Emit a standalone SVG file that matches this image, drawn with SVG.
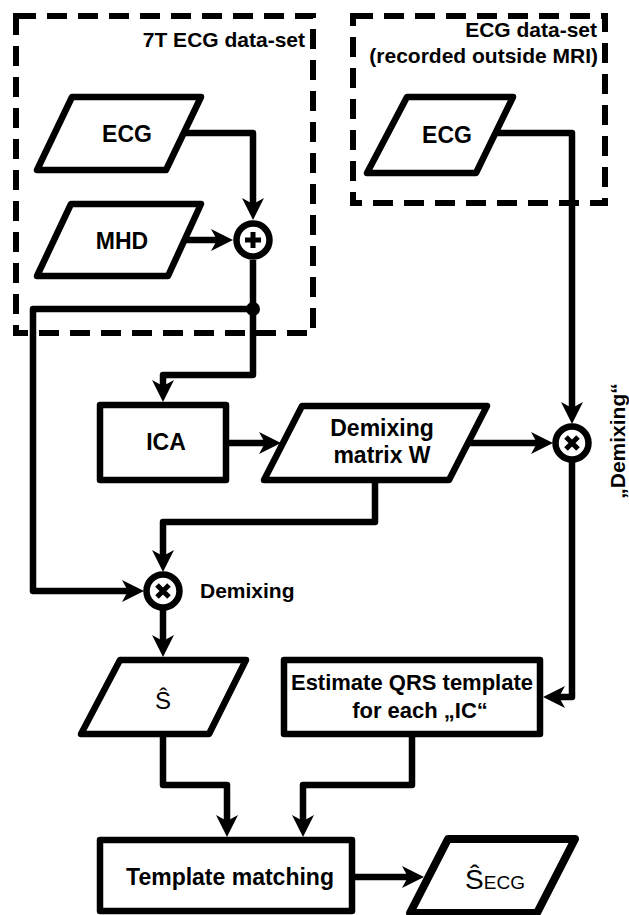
<svg xmlns="http://www.w3.org/2000/svg" width="629" height="915" viewBox="0 0 629 915">
<style>
.shape{fill:#fff;stroke:#000;stroke-width:6.5;stroke-linejoin:round}
.dash{fill:none;stroke:#000;stroke-width:6;stroke-dasharray:20 11}
.conn{fill:none;stroke:#000;stroke-width:6.5;stroke-linejoin:round}
.lbl{font-family:"Liberation Sans",Arial,sans-serif;font-weight:bold;font-size:23px;fill:#000;text-anchor:middle}
.grp{font-family:"Liberation Sans",Arial,sans-serif;font-weight:bold;font-size:21px;fill:#000;text-anchor:end}
.sym{fill:none;stroke:#000;stroke-width:5;stroke-linecap:butt}
</style>
<defs>
<marker id="arr" markerUnits="userSpaceOnUse" viewBox="-14 -12 26 24" markerWidth="26" markerHeight="24" refX="0" refY="0" orient="auto">
<path d="M10,0 L-12,-11 L-6,0 L-12,11 Z" fill="#000"/>
</marker>
</defs>

<g id="dataset-7T">
<rect class="dash" x="16" y="16" width="297" height="317"/>
<text class="grp" x="305" y="47">7T ECG data-set</text>
</g>
<g id="dataset-outside">
<rect class="dash" x="353" y="16" width="252" height="187"/>
<text class="grp" x="597" y="37">ECG data-set</text>
<text class="grp" x="598" y="63">(recorded outside MRI)</text>
</g>

<g id="connectors">
<path class="conn" d="M184,133 H253 V210" marker-end="url(#arr)"/>
<path class="conn" d="M185,240 H223" marker-end="url(#arr)"/>
<path class="conn" d="M253,260 V375 H163 V392" marker-end="url(#arr)"/>
<path class="conn" d="M253,309 H33 V591 H134" marker-end="url(#arr)"/>
<circle cx="253" cy="309" r="7" fill="#000"/>
<path class="conn" d="M226,443 H271" marker-end="url(#arr)"/>
<path class="conn" d="M468,443 H543" marker-end="url(#arr)"/>
<path class="conn" d="M494,133 H572 V414" marker-end="url(#arr)"/>
<path class="conn" d="M572,462 V697 H553" marker-end="url(#arr)"/>
<path class="conn" d="M375,480 V522 H163 V562" marker-end="url(#arr)"/>
<path class="conn" d="M163,610 V647" marker-end="url(#arr)"/>
<path class="conn" d="M163,734 V785 H227 V827" marker-end="url(#arr)"/>
<path class="conn" d="M412,734 V785 H303 V827" marker-end="url(#arr)"/>
<path class="conn" d="M352,877 H414" marker-end="url(#arr)"/>
</g>

<g id="ecg-7t">
<polygon class="shape" points="72,97 201,97 166,170 37,170"/>
<text class="lbl" x="127" y="142">ECG</text>
</g>
<g id="mhd">
<polygon class="shape" points="71,204 201,204 168,276 37,276"/>
<text class="lbl" x="122" y="249">MHD</text>
</g>
<g id="sum">
<circle class="shape" cx="253" cy="240" r="16.5"/>
<path class="sym" d="M245,240 H261 M253,232 V248"/>
</g>
<g id="ecg-outside">
<polygon class="shape" points="407,97 513,97 476,173 367,173"/>
<text class="lbl" x="447" y="143">ECG</text>
</g>
<g id="ica">
<rect class="shape" x="100" y="405" width="126" height="75"/>
<text class="lbl" x="166" y="450">ICA</text>
</g>
<g id="demixing-matrix">
<polygon class="shape" points="302,406 487,406 449,480 264,480"/>
<text class="lbl" x="382" y="436">Demixing</text>
<text class="lbl" x="382" y="463">matrix W</text>
</g>
<g id="mult-right">
<circle class="shape" cx="572" cy="443" r="16.5"/>
<path class="sym" d="M566,437 L578,449 M578,437 L566,449"/>
<text font-family="Liberation Sans, Arial, sans-serif" font-weight="bold" font-size="21" text-anchor="middle" transform="translate(625,441) rotate(-90)">„Demixing“</text>
</g>
<g id="mult-left">
<circle class="shape" cx="163" cy="591" r="16.5"/>
<path class="sym" d="M157,585 L169,597 M169,585 L157,597"/>
<text font-family="Liberation Sans, Arial, sans-serif" font-weight="bold" font-size="21" x="200" y="598">Demixing</text>
</g>
<g id="s-hat">
<polygon class="shape" points="120,660 246,660 209,734 81,734"/>
<text font-family="Liberation Sans, Arial, sans-serif" font-size="24" text-anchor="middle" x="163" y="709">Ŝ</text>
</g>
<g id="estimate-qrs">
<rect class="shape" x="284" y="660" width="256" height="74"/>
<text class="lbl" style="font-size:22px" x="412" y="690">Estimate QRS template</text>
<text class="lbl" style="font-size:22px" x="420" y="718">for each „IC“</text>
</g>
<g id="template-matching">
<rect class="shape" x="100" y="840" width="252" height="71"/>
<text class="lbl" x="230" y="885">Template matching</text>
</g>
<g id="s-ecg">
<polygon class="shape" style="stroke-width:8" points="448,839 575,839 537,913 410,913"/>
<text font-family="Liberation Sans, Arial, sans-serif" font-size="28" text-anchor="middle" x="495" y="889">Ŝ<tspan font-size="19">ECG</tspan></text>
</g>
</svg>
